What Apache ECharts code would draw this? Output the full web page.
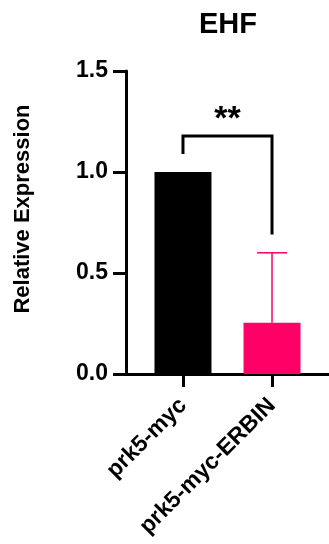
<!DOCTYPE html>
<html>
<head>
<meta charset="utf-8">
<script src="https://cdn.jsdelivr.net/npm/echarts@6/dist/echarts.min.js"></script>
<style>html,body{margin:0;padding:0;background:#fff}#c{width:329px;height:544px}</style>
</head>
<body>
<div id="c"></div>
<script>
const categories = ['prk5-myc', 'prk5-myc-ERBIN'];
const means = [1.0, 0.254];
const errors = [0, 0.346];
const colors = ['#000000', '#FF0066'];
const yTicks = [0, 0.5, 1.0, 1.5];
const sigLabel = '**';
const bracket = { from: 0, to: 1, top: 1.178, leftEnd: 1.089, rightEnd: 0.69, labelY: 1.26 };

const FONT = '"Liberation Sans", Arial, sans-serif';
const positions = categories.map((c, i) => i);

const chart = echarts.init(document.getElementById('c'), null, { renderer: 'canvas' });
chart.setOption({
  animation: false,
  backgroundColor: '#ffffff',
  title: {
    text: 'EHF', left: 223, top: 5, textAlign: 'center',
    textStyle: { fontFamily: FONT, fontWeight: 'bold', fontSize: 29, color: '#000' }
  },
  grid: { left: 126, right: 0, top: 71, bottom: 170, containLabel: false },
  xAxis: {
    type: 'value', min: -0.64, max: 1.64,
    splitLine: { show: false },
    axisLine: { show: true, onZero: false, lineStyle: { color: '#000', width: 3 } },
    axisTick: { show: true, customValues: positions, length: 13, lineStyle: { color: '#000', width: 3 } },
    axisLabel: {
      show: true, customValues: positions, rotate: 45, margin: 28,
      formatter: v => categories[Math.round(v)] || '',
      fontFamily: FONT, fontWeight: 'bold', fontSize: 23, color: '#000'
    }
  },
  yAxis: {
    type: 'value', min: 0, max: 1.5, interval: 0.5,
    name: 'Relative Expression', nameLocation: 'middle', nameGap: 92, nameRotate: 90,
    nameTextStyle: { fontFamily: FONT, fontWeight: 'bold', fontSize: 22, color: '#000', padding: [0, 0, 0, 27] },
    splitLine: { show: false },
    axisLine: { show: true, onZero: false, lineStyle: { color: '#000', width: 3 } },
    axisTick: { show: true, length: 13, lineStyle: { color: '#000', width: 3 } },
    axisLabel: {
      margin: 18, formatter: v => v.toFixed(1),
      fontFamily: FONT, fontWeight: 'bold', fontSize: 23, color: '#000'
    }
  },
  series: [
    {
      type: 'bar', barWidth: 57,
      data: positions.map((p, i) => ({ value: [p, means[i]], itemStyle: { color: colors[i] } })),
      z: 2
    },
    {
      type: 'custom', z: 3,
      data: positions.map((p, i) => [p, means[i], means[i] + errors[i]]),
      renderItem: (params, api) => {
        const i = params.dataIndex;
        if (!errors[i]) return null;
        const x = api.value(0);
        const lo = api.coord([x, api.value(1)]);
        const hi = api.coord([x, api.value(2)]);
        const capHalf = 15;
        return {
          type: 'group',
          children: [
            { type: 'line', shape: { x1: lo[0], y1: lo[1], x2: hi[0], y2: hi[1] }, style: { stroke: colors[i], lineWidth: 1.5 } },
            { type: 'line', shape: { x1: hi[0] - capHalf, y1: hi[1], x2: hi[0] + capHalf, y2: hi[1] }, style: { stroke: colors[i], lineWidth: 1.5 } }
          ]
        };
      }
    },
    {
      type: 'custom', z: 4,
      data: [[bracket.from, bracket.to, bracket.top, bracket.leftEnd, bracket.rightEnd, bracket.labelY]],
      renderItem: (params, api) => {
        const a = api.coord([api.value(0), api.value(3)]);
        const b = api.coord([api.value(0), api.value(2)]);
        const c = api.coord([api.value(1), api.value(2)]);
        const d = api.coord([api.value(1), api.value(4)]);
        const t = api.coord([(api.value(0) + api.value(1)) / 2, api.value(5)]);
        return {
          type: 'group',
          children: [
            { type: 'polyline', shape: { points: [a, b, c, d] }, style: { stroke: '#000', lineWidth: 3, fill: null, lineJoin: 'miter' } },
            { type: 'text', x: t[0], y: t[1], style: { text: sigLabel, fontFamily: FONT, fontWeight: 'bold', fontSize: 34, fill: '#000', align: 'center', verticalAlign: 'middle' } }
          ]
        };
      }
    }
  ]
});
</script>
</body>
</html>
